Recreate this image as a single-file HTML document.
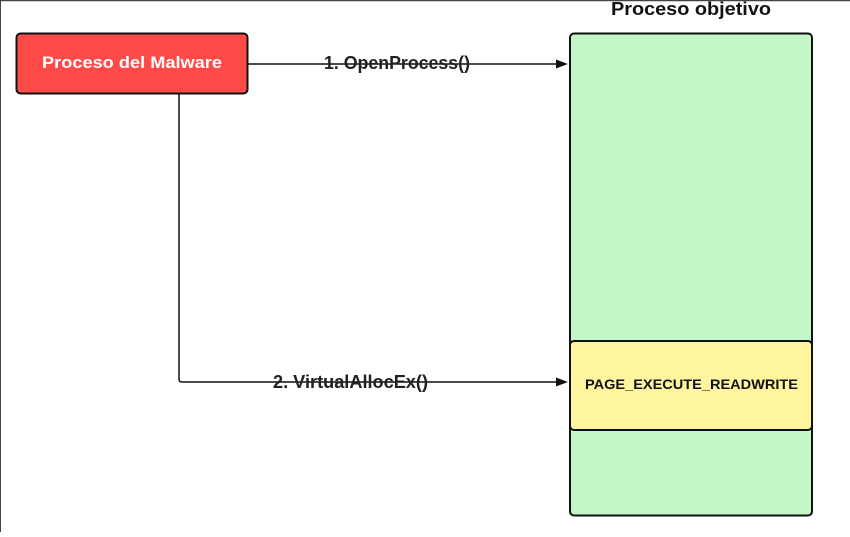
<!DOCTYPE html>
<html><head><style>
body{margin:0;width:850px;height:532px;overflow:hidden;background:#fff;font-family:"Liberation Sans",sans-serif;}
</style></head><body>
<svg width="850" height="532" xmlns="http://www.w3.org/2000/svg">
<line x1="0" y1="0.5" x2="850" y2="0.5" stroke="#444" stroke-width="1.5"/>
<line x1="0.5" y1="0" x2="0.5" y2="532" stroke="#444" stroke-width="1"/>
<rect x="570" y="33.5" width="242" height="482" rx="4" fill="#c3f7c8" stroke="#111" stroke-width="2"/>
<rect x="570" y="341" width="242" height="89" rx="4" fill="#fff59e" stroke="#111" stroke-width="2"/>
<rect x="16.5" y="33.5" width="231" height="60" rx="4" fill="#ff4a4a" stroke="#111" stroke-width="2"/>
<text x="42" y="68" font-size="17" font-weight="bold" fill="#fff" textLength="180" lengthAdjust="spacingAndGlyphs">Proceso del Malware</text>
<text x="611" y="15" font-size="18" font-weight="bold" fill="#111" textLength="160" lengthAdjust="spacingAndGlyphs">Proceso objetivo</text>
<text x="585" y="389" font-size="14" font-weight="bold" fill="#111" textLength="213" lengthAdjust="spacingAndGlyphs">PAGE_EXECUTE_READWRITE</text>
<line x1="248" y1="64" x2="558" y2="64" stroke="#111" stroke-width="1.5"/>
<polygon points="568,64 556,59.5 556,68.5" fill="#111"/>
<path d="M179 94 V379 Q179 382 182 382 H558" fill="none" stroke="#111" stroke-width="1.5"/>
<polygon points="568,382 556,377.5 556,386.5" fill="#111"/>
<text x="324" y="69" font-size="18" font-weight="bold" fill="#222" textLength="146" lengthAdjust="spacingAndGlyphs">1. OpenProcess()</text>
<text x="273" y="388" font-size="18" font-weight="bold" fill="#222" textLength="155" lengthAdjust="spacingAndGlyphs">2. VirtualAllocEx()</text>
</svg>
</body></html>
